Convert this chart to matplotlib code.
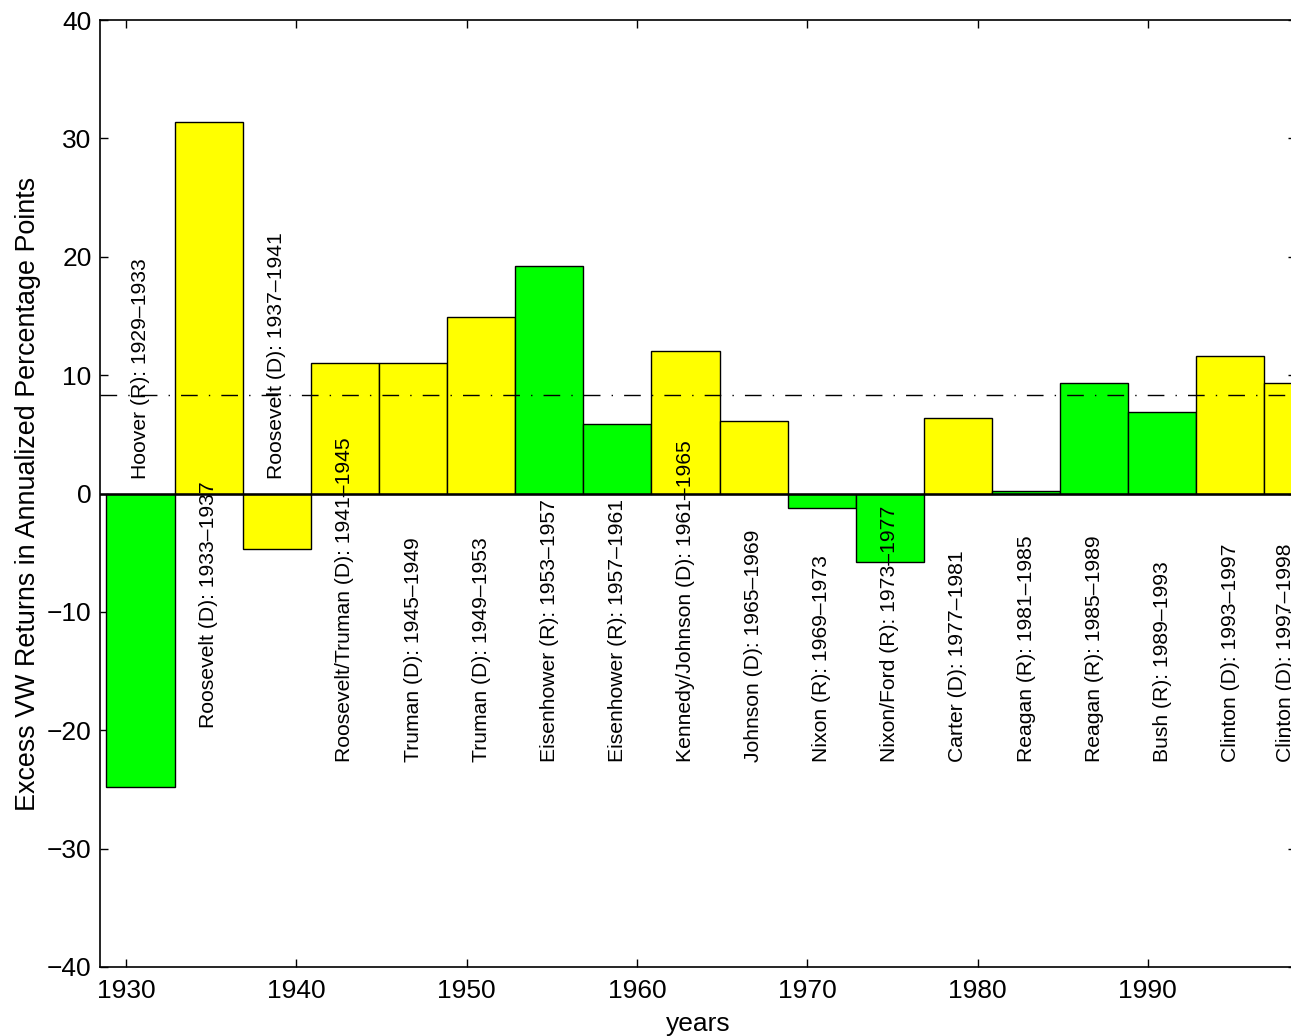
import matplotlib
matplotlib.use("Agg")
import matplotlib.pyplot as plt
import numpy as np

plt.rcParams['font.family'] = ['Liberation Sans', 'DejaVu Sans']

# ---- data ----
presidents = ["Hoover (R)", "Roosevelt (D)", "Roosevelt (D)", "Roosevelt/Truman (D)",
              "Truman (D)", "Truman (D)", "Eisenhower (R)", "Eisenhower (R)",
              "Kennedy/Johnson (D)", "Johnson (D)", "Nixon (R)", "Nixon/Ford (R)",
              "Carter (D)", "Reagan (R)", "Reagan (R)", "Bush (R)",
              "Clinton (D)", "Clinton (D)"]
start_years = [1929, 1933, 1937, 1941, 1945, 1949, 1953, 1957, 1961, 1965,
               1969, 1973, 1977, 1981, 1985, 1989, 1993, 1997]
end_years = [1933, 1937, 1941, 1945, 1949, 1953, 1957, 1961, 1965, 1969,
             1973, 1977, 1981, 1985, 1989, 1993, 1997, 1998]
excess_returns = [-24.8, 31.4, -4.65, 11.0, 11.05, 14.95, 19.25, 5.9, 12.0, 6.15,
                  -1.2, -5.75, 6.4, 0.25, 9.35, 6.85, 11.65, 9.3]
party = ["R", "D", "D", "D", "D", "D", "R", "R", "D", "D",
         "R", "R", "D", "R", "R", "R", "D", "D"]
average_return = 8.35

# ---- layout / style ----
party_colors = {"R": "#00FF00", "D": "#FFFF00"}
label_y = [1.2, -19.8, 1.2] + [-22.7] * 15
bar_widths = [4.0] * 17 + [2.5]
bar_shift = -0.15

fig = plt.figure(figsize=(12.91, 10.36), dpi=100)
ax = fig.add_axes([100 / 1291, 69 / 1036, 1196 / 1291, 947 / 1036])

lefts = np.array(start_years, dtype=float) + bar_shift
ax.bar(lefts, excess_returns, width=bar_widths, align='edge',
       color=[party_colors[p] for p in party], edgecolor='black', linewidth=1.0, zorder=2)
ax.axhline(0, color='black', linewidth=1.8, zorder=3)
ax.axhline(average_return, color='black', linewidth=1.0, dashes=(12, 8, 1, 8), zorder=4)

for x0, w, name, s, e, ly in zip(lefts, bar_widths, presidents, start_years, end_years, label_y):
    ax.text(x0 + w / 2, ly, f"{name}: {s}\u2013{e}", rotation=90,
            ha='center', va='bottom', fontsize=15.2, zorder=5, clip_on=False)

ax.set_xlim(1928.47, 1998.7)
ax.set_ylim(-40, 40)
ax.set_xticks([1930, 1940, 1950, 1960, 1970, 1980, 1990])
ax.set_yticks(np.arange(-40, 41, 10))
ax.set_yticklabels([str(v).replace('-', '\u2212') for v in range(-40, 41, 10)])
ax.tick_params(direction='in', length=6, width=1, top=True, right=True,
               labelsize=19, pad=6)
ax.tick_params(axis='x', pad=9)
for sp in ax.spines.values():
    sp.set_linewidth(1.2)

ax.set_xlabel("years", fontsize=19, labelpad=6)
ax.set_ylabel("Excess VW Returns in Annualized Percentage Points", fontsize=19.4, labelpad=4)

fig.savefig("out.png", dpi=100)
